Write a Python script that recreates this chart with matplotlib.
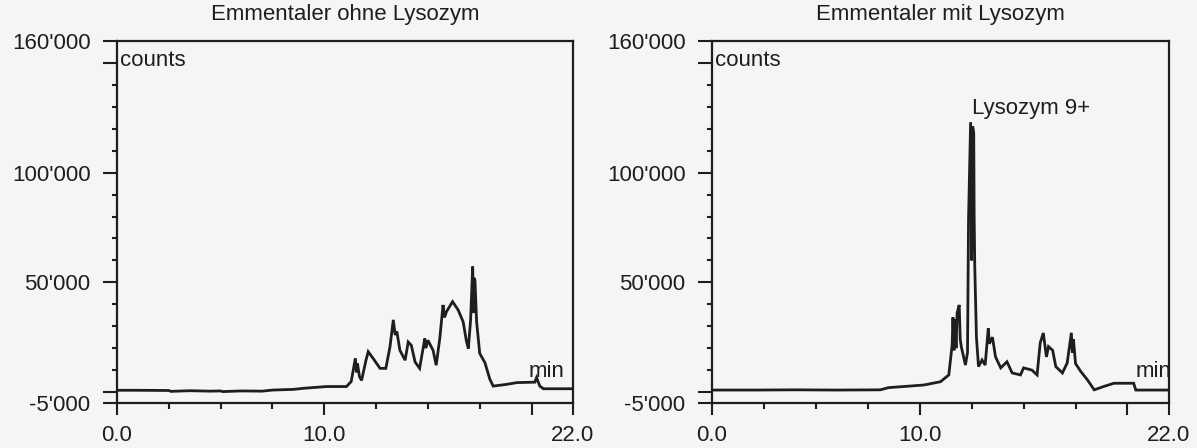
import numpy as np
import matplotlib.pyplot as plt
from matplotlib.ticker import FixedLocator

plt.rcParams['font.family'] = ['Liberation Sans', 'DejaVu Sans']

# retention time (min) / counts
t_ohne = [0.0, 1.0, 2.5, 2.6, 3.5, 4.5, 5.0, 5.1, 6.0, 7.0, 7.5, 8.5, 9.0, 10.1, 11.07,
          11.3, 11.5, 11.55, 11.6, 11.7, 11.8, 12.0, 12.12, 12.35, 12.69, 12.97, 13.17, 13.33,
          13.42, 13.5, 13.65, 13.9, 14.05, 14.2, 14.38, 14.6, 14.85, 14.9, 15.0, 15.25, 15.4,
          15.58, 15.73, 15.8, 15.9, 16.19, 16.46, 16.7, 16.85, 16.95, 17.06, 17.16, 17.2,
          17.22, 17.27, 17.35, 17.5, 17.75, 17.99, 18.15, 18.8, 19.3, 20.16, 20.24, 20.4,
          20.57, 22.0]
c_ohne = [800, 800, 700, 300, 600, 400, 500, 200, 500, 400, 900, 1200, 1700, 2500, 2500,
          4800, 15400, 9000, 13000, 7000, 5300, 14000, 18400, 15400, 10800, 10800, 20600, 32900,
          26000, 27600, 19000, 14500, 22800, 21300, 13700, 10800, 24400, 20000, 23600, 19000,
          12200, 25000, 39700, 34000, 36700, 41200, 37400, 32000, 23600, 19800, 32800, 57200,
          36000, 52000, 51000, 32000, 17600, 13400, 5800, 2700, 3500, 4300, 4500, 6500, 2700,
          1500, 1500]

t_mit = [0.0, 2.0, 4.0, 6.0, 8.1, 8.5, 10.2, 11.0, 11.4, 11.56, 11.6, 11.65, 11.7, 11.75,
         11.8, 11.9, 11.95, 12.0, 12.2, 12.3, 12.35, 12.45, 12.5, 12.55, 12.6, 12.62, 12.65,
         12.73, 12.83, 13.0, 13.15, 13.3, 13.35, 13.5, 13.65, 13.9, 14.2, 14.45, 14.85, 15.0,
         15.4, 15.65, 15.8, 15.95, 16.1, 16.2, 16.4, 16.55, 16.87, 17.1, 17.3, 17.35, 17.4,
         17.5, 17.75, 18.07, 18.4, 18.85, 19.35, 20.3, 20.4, 22.0]
c_mit = [900, 900, 1000, 900, 1000, 2000, 3200, 4700, 7800, 21500, 34000, 19000, 33000, 20000,
         36000, 39700, 24000, 20700, 12300, 18000, 79000, 123000, 60000, 121000, 118000, 80000,
         57000, 25000, 11600, 14600, 12300, 29000, 22000, 25000, 16000, 11000, 13800, 8700,
         7800, 11000, 10000, 7800, 22400, 26900, 16000, 20700, 19000, 11600, 8700, 13300,
         27000, 18000, 24000, 13000, 9400, 5600, 1000, 2500, 4000, 4000, 900, 900]

titles = ['Emmentaler ohne Lysozym', 'Emmentaler mit Lysozym']
y_major = [-5000, 0, 50000, 100000, 150000, 160000]
y_labels = ["-5'000", '', "50'000", "100'000", '', "160'000"]
y_minor = [10000, 20000, 30000, 40000, 60000, 70000, 80000, 90000,
           110000, 120000, 130000, 140000]
x_major = [0, 10, 20, 22]
x_labels = ['0.0', '10.0', '', '22.0']
x_minor = [2.5, 5, 7.5, 12.5, 15, 17.5]

ink = '#1e1e1e'
fs = 16
fig = plt.figure(figsize=(11.97, 4.48), dpi=100, facecolor='#f5f5f5')
ax1 = fig.add_axes([117/1197, 45/448, 456/1197, 362/448])
ax2 = fig.add_axes([712/1197, 45/448, 457/1197, 362/448])

for ax, t, c, title in [(ax1, t_ohne, c_ohne, titles[0]), (ax2, t_mit, c_mit, titles[1])]:
    ax.set_facecolor('none')
    ax.plot(t, c, color=ink, lw=2.0, solid_joinstyle='miter')
    ax.set_xlim(0, 22)
    ax.set_ylim(-5000, 160000)
    for s in ax.spines.values():
        s.set_linewidth(1.6)
        s.set_color(ink)
    ax.yaxis.set_major_locator(FixedLocator(y_major))
    ax.set_yticklabels(y_labels)
    ax.yaxis.set_minor_locator(FixedLocator(y_minor))
    ax.xaxis.set_major_locator(FixedLocator(x_major))
    ax.set_xticklabels(x_labels)
    ax.xaxis.set_minor_locator(FixedLocator(x_minor))
    ax.tick_params(axis='y', which='major', length=10, width=1.5, pad=9,
                   labelsize=fs, colors=ink)
    ax.tick_params(axis='y', which='minor', length=3.6, width=1.5, colors=ink)
    ax.tick_params(axis='x', which='major', length=8.5, width=1.5, pad=7,
                   labelsize=fs, colors=ink)
    ax.tick_params(axis='x', which='minor', length=4.3, width=1.5, colors=ink)
    ax.set_title(title, fontsize=fs, color=ink, pad=15)
    ax.text(0.15, 148500, 'counts', fontsize=fs, color=ink, va='baseline', ha='left')

ax1.text(19.85, 7000, 'min', fontsize=fs, color=ink, va='baseline', ha='left')
ax2.text(20.4, 7000, 'min', fontsize=fs, color=ink, va='baseline', ha='left', clip_on=True)
ax2.text(12.54, 126500, 'Lysozym 9+', fontsize=fs, color=ink, va='baseline', ha='left')

fig.savefig('out.png', dpi=100, facecolor=fig.get_facecolor())
